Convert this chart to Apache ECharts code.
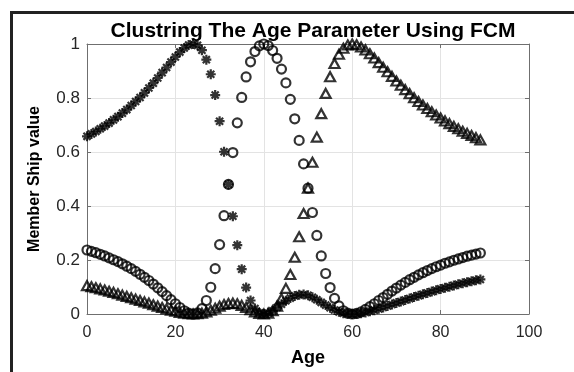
<!DOCTYPE html>
<html>
<head>
<meta charset="utf-8">
<script src="https://cdn.jsdelivr.net/npm/echarts@6/dist/echarts.min.js"></script>
<style>
html,body{margin:0;padding:0;background:#fff;}
#chart{width:574px;height:372px;}
</style>
</head>
<body>
<div id="chart"></div>
<script>
// Ages (x values)
var ages = [0,1,2,3,4,5,6,7,8,9,10,11,12,13,14,15,16,17,18,19,20,21,22,23,24,25,26,27,28,29,30,31,32,33,34,35,36,37,38,39,40,41,42,43,44,45,46,47,48,49,50,51,52,53,54,55,56,57,58,59,60,61,62,63,64,65,66,67,68,69,70,71,72,73,74,75,76,77,78,79,80,81,82,83,84,85,86,87,88,89];

// Cluster 1 membership (asterisk markers), peak near age 24
var cluster1 = [0.658,0.667,0.676,0.686,0.696,0.707,0.719,0.731,0.744,0.757,0.772,0.787,0.802,0.819,0.837,0.855,0.874,0.894,0.913,0.933,0.952,0.970,0.985,0.996,1.000,0.995,0.977,0.942,0.888,0.811,0.714,0.601,0.480,0.362,0.255,0.166,0.098,0.050,0.020,0.004,0.000,0.003,0.012,0.024,0.036,0.049,0.059,0.067,0.071,0.072,0.069,0.062,0.053,0.043,0.033,0.023,0.015,0.008,0.003,0.001,0.000,0.001,0.003,0.006,0.010,0.014,0.019,0.024,0.030,0.035,0.041,0.046,0.052,0.057,0.063,0.068,0.073,0.078,0.083,0.088,0.093,0.097,0.101,0.106,0.110,0.114,0.118,0.121,0.125,0.128];

// Cluster 2 membership (circle markers), peak near age 40
var cluster2 = [0.237,0.232,0.227,0.221,0.215,0.208,0.201,0.194,0.186,0.177,0.168,0.158,0.147,0.136,0.124,0.111,0.097,0.083,0.068,0.053,0.038,0.024,0.012,0.003,0.000,0.004,0.020,0.050,0.099,0.168,0.257,0.364,0.480,0.598,0.708,0.802,0.878,0.934,0.972,0.993,1.000,0.994,0.976,0.947,0.907,0.856,0.795,0.723,0.643,0.556,0.466,0.376,0.291,0.215,0.150,0.098,0.058,0.030,0.012,0.003,0.000,0.002,0.008,0.017,0.027,0.038,0.050,0.061,0.073,0.085,0.096,0.107,0.117,0.127,0.136,0.145,0.153,0.161,0.168,0.175,0.181,0.188,0.193,0.199,0.204,0.209,0.214,0.218,0.222,0.226];

// Cluster 3 membership (triangle markers), peak near age 60
var cluster3 = [0.105,0.101,0.097,0.093,0.089,0.084,0.080,0.075,0.070,0.065,0.060,0.055,0.050,0.045,0.040,0.034,0.029,0.024,0.019,0.014,0.010,0.006,0.003,0.001,0.000,0.001,0.003,0.008,0.014,0.021,0.029,0.035,0.039,0.040,0.038,0.032,0.024,0.016,0.008,0.002,0.000,0.003,0.012,0.029,0.057,0.095,0.146,0.210,0.286,0.372,0.466,0.562,0.655,0.742,0.817,0.879,0.928,0.962,0.984,0.996,1.000,0.997,0.989,0.978,0.964,0.948,0.931,0.914,0.897,0.880,0.863,0.847,0.831,0.816,0.801,0.787,0.774,0.761,0.749,0.737,0.726,0.715,0.705,0.695,0.686,0.677,0.669,0.661,0.653,0.645];

var xTicks = [0,20,40,60,80,100];
var yTicks = [0,0.2,0.4,0.6,0.8,1];

function pairs(ys){ return ages.map(function(a,i){ return [a, ys[i]]; }); }

var chart = echarts.init(document.getElementById('chart'), null, {renderer:'canvas'});
var FONT = '"Liberation Sans", Arial, sans-serif';
var axisGray = '#6f6f6f';
var gridGray = '#e3e3e3';
var textCol = '#262626';

var asterisk = 'path://M0,-10L0,10M-10,0L10,0M-7.07,-7.07L7.07,7.07M-7.07,7.07L7.07,-7.07';

var option = {
  backgroundColor:'#fff',
  animation:false,
  title:{
    text:'Clustring The Age Parameter Using FCM',
    left:308, top:16, textAlign:'center',
    textStyle:{fontFamily:FONT, fontWeight:'bold', fontSize:21, color:'#000'}
  },
  grid:{left:87, top:44, width:442, height:280, containLabel:false},
  graphic:[
    {type:'rect', shape:{x:10, y:11, width:3, height:361}, style:{fill:'#222'}, silent:true},
    {type:'rect', shape:{x:10, y:11, width:564, height:3}, style:{fill:'#222'}, silent:true}
  ],
  xAxis:[{
    type:'value', min:xTicks[0], max:xTicks[xTicks.length-1], interval:20,
    position:'bottom',
    name:'Age', nameLocation:'middle', nameGap:35,
    nameTextStyle:{fontFamily:FONT, fontWeight:'bold', fontSize:18, color:'#000'},
    axisLine:{show:true, onZero:false, lineStyle:{color:axisGray, width:1}},
    axisTick:{show:true, inside:true, length:4, lineStyle:{color:axisGray}},
    axisLabel:{fontFamily:FONT, fontSize:16, color:textCol, margin:11},
    splitLine:{show:true, lineStyle:{color:gridGray, width:1}}
  },{
    type:'value', min:0, max:100, interval:20, position:'top',
    axisLine:{show:true, onZero:false, lineStyle:{color:axisGray, width:1}},
    axisTick:{show:true, inside:true, length:4, lineStyle:{color:axisGray}},
    axisLabel:{show:false}, splitLine:{show:false}
  }],
  yAxis:[{
    type:'value', min:yTicks[0], max:yTicks[yTicks.length-1], interval:0.2,
    position:'left',
    name:'Member Ship value', nameLocation:'middle', nameGap:44,
    nameTextStyle:{fontFamily:FONT, fontWeight:'bold', fontSize:16, color:'#000'},
    axisLine:{show:true, onZero:false, lineStyle:{color:axisGray, width:1}},
    axisTick:{show:true, inside:true, length:4, lineStyle:{color:axisGray}},
    axisLabel:{fontFamily:FONT, fontSize:17, color:textCol, margin:7,
      formatter:function(v){ return String(Math.round(v*10)/10); }},
    splitLine:{show:true, lineStyle:{color:gridGray, width:1}}
  },{
    type:'value', min:0, max:1, interval:0.2, position:'right',
    axisLine:{show:true, onZero:false, lineStyle:{color:axisGray, width:1}},
    axisTick:{show:true, inside:true, length:4, lineStyle:{color:axisGray}},
    axisLabel:{show:false}, splitLine:{show:false}
  }],
  series:[
    {type:'scatter', name:'Cluster 1', data:pairs(cluster1), xAxisIndex:0, yAxisIndex:0,
     symbol:asterisk, symbolSize:10, clip:false,
     itemStyle:{color:'rgba(0,0,0,0)', borderColor:'#000', borderWidth:2.2}},
    {type:'scatter', name:'Cluster 2', data:pairs(cluster2), xAxisIndex:0, yAxisIndex:0,
     symbol:'circle', symbolSize:9, clip:false,
     itemStyle:{color:'rgba(0,0,0,0)', borderColor:'#000', borderWidth:2.2}},
    {type:'scatter', name:'Cluster 3', data:pairs(cluster3), xAxisIndex:0, yAxisIndex:0,
     symbol:'triangle', symbolSize:[10,9], clip:false,
     itemStyle:{color:'rgba(0,0,0,0)', borderColor:'#000', borderWidth:2.2}}
  ]
};
chart.setOption(option);
</script>
</body>
</html>
